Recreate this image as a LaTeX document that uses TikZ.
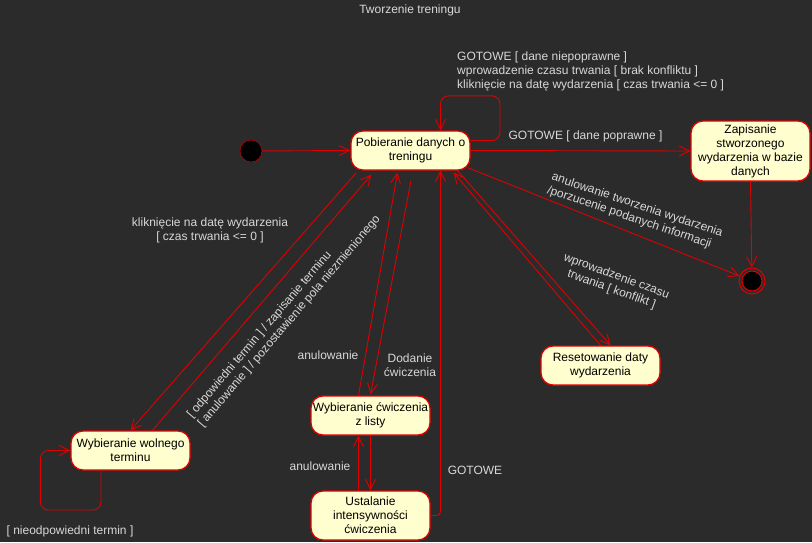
\documentclass[tikz,border=0pt]{standalone}
\usepackage{fontspec}
\setmainfont{Liberation Sans}
\usepackage{tikz}
\usetikzlibrary{arrows.meta,calc}
\definecolor{bg}{HTML}{2B2B2B}
\definecolor{umlred}{HTML}{E00000}
\definecolor{umlfill}{HTML}{FEFECE}
\definecolor{umltext}{HTML}{D8D8D8}
\tikzset{
  state/.style={draw=umlred, line width=1.3pt, fill=umlfill, rounded corners=12pt, minimum width=119pt, minimum height=39pt, text=black, align=center, inner sep=1pt},
  initial/.style={circle, draw=umlred, fill=black, minimum size=22pt, inner sep=0pt},
  final/.style={circle, draw=umlred, line width=1pt, minimum size=26pt, inner sep=0pt, path picture={\fill[black, draw=umlred] (path picture bounding box.center) circle (10pt);}},
  lbl/.style={text=umltext, align=center, inner sep=0pt},
  trans/.style={umlred, line width=0.9pt, -{Straight Barb[length=10pt,width=10pt]}}
}

\begin{document}
\begin{tikzpicture}[x=1pt, y=-1pt, font=\fontsize{12}{14}\selectfont]
\fill[bg] (0,0) rectangle (812,542);
\path (251,151) node (I) [initial] {};
\path (410.5,150.5) node (P) [state] {Pobieranie danych o\\treningu};
\path (750.5,151) node (Z) [state, minimum height=60pt] {Zapisanie\\stworzonego\\wydarzenia w bazie\\danych};
\path (752,281) node (F) [final] {};
\path (600.5,365.5) node (R) [state] {Resetowanie daty\\wydarzenia};
\path (130.5,450.5) node (W) [state] {Wybieranie wolnego\\terminu};
\path (370.5,415.5) node (C) [state] {Wybieranie ćwiczenia\\z listy};
\path (370.5,515.5) node (U) [state, minimum height=49pt] {Ustalanie\\intensywności\\ćwiczenia};

\draw[trans] (I) -- (P.west);
\draw[trans, rounded corners=8pt] ($(P.east)+(0,-10)$) -| ($(P.north)+(89.5,-34.5)$) -| ($(P.north)+(30,0)$);
\draw[trans] (P.east) -- (Z.west);
\draw[trans] ($(P.south east)+(-3,-3)$) -- (F);
\draw[trans] (Z.south) -- (F);
\draw[trans] ($(P.south east)+(-13,0)$) -- ($(R.north)+(10,0)$);
\draw[trans] (R.north) -- ($(P.south east)+(-17,2)$);
\draw[trans] ($(P.south west)+(6,2)$) -- (W.north);
\draw[trans] ($(W.north)+(22,0)$) -- ($(P.south west)+(21,4)$);
\draw[trans] ($(C.north)+(-12,0)$) -- ($(P.south)+(-13,2)$);
\draw[trans] ($(P.south)+(0.5,10)$) -- ($(C.north)+(0,-1)$);
\draw[trans] (C.south) -- (U.north);
\draw[trans] ($(U.north)+(-12,0)$) -- ($(C.south)+(-12,0)$);
\draw[trans, rounded corners=4pt] (U.east) -| ($(P.south)+(30,0)$);
\draw[trans, rounded corners=8pt] ($(W.south)+(-29.5,0)$) |- ($(W.west)+(-30,59.5)$) |- (W.west);

\path (410,10) node (title) [lbl] {Tworzenie treningu};
\path (457,71) node (lLoop) [lbl, anchor=west, align=left] {GOTOWE [ dane niepoprawne ]\\wprowadzenie czasu trwania [ brak konfliktu ]\\kliknięcie na datę wydarzenia [ czas trwania <= 0 ]};
\path (585.5,136) node (lOk) [lbl] {GOTOWE [ dane poprawne ]};
\path (635,212) node (lCancel) [lbl, rotate=-18.5, align=left] {anulowanie tworzenia wydarzenia\\/porzucenie podanych informacji};
\path (614,283) node (lConflict) [lbl, rotate=-20] {wprowadzenie czasu\\trwania [ konflikt ]};
\path (210,230.5) node (lClick) [lbl] {kliknięcie na datę wydarzenia\\{}[ czas trwania <= 0 ]};
\path (284,317) node (lTerm) [lbl, rotate=49.5, align=left] {[ odpowiedni termin ] / zapisanie terminu\\{}[ anulowanie ] / pozostawienie pola niezmienionego};
\path (328,355) node (lCancelC) [lbl] {anulowanie};
\path (410,365.5) node (lAdd) [lbl] {Dodanie\\ćwiczenia};
\path (320,466) node (lCancelU) [lbl] {anulowanie};
\path (475,470) node (lDone) [lbl] {GOTOWE};
\path (70,531) node (lBad) [lbl] {[ nieodpowiedni termin ]};
\end{tikzpicture}
\end{document}
